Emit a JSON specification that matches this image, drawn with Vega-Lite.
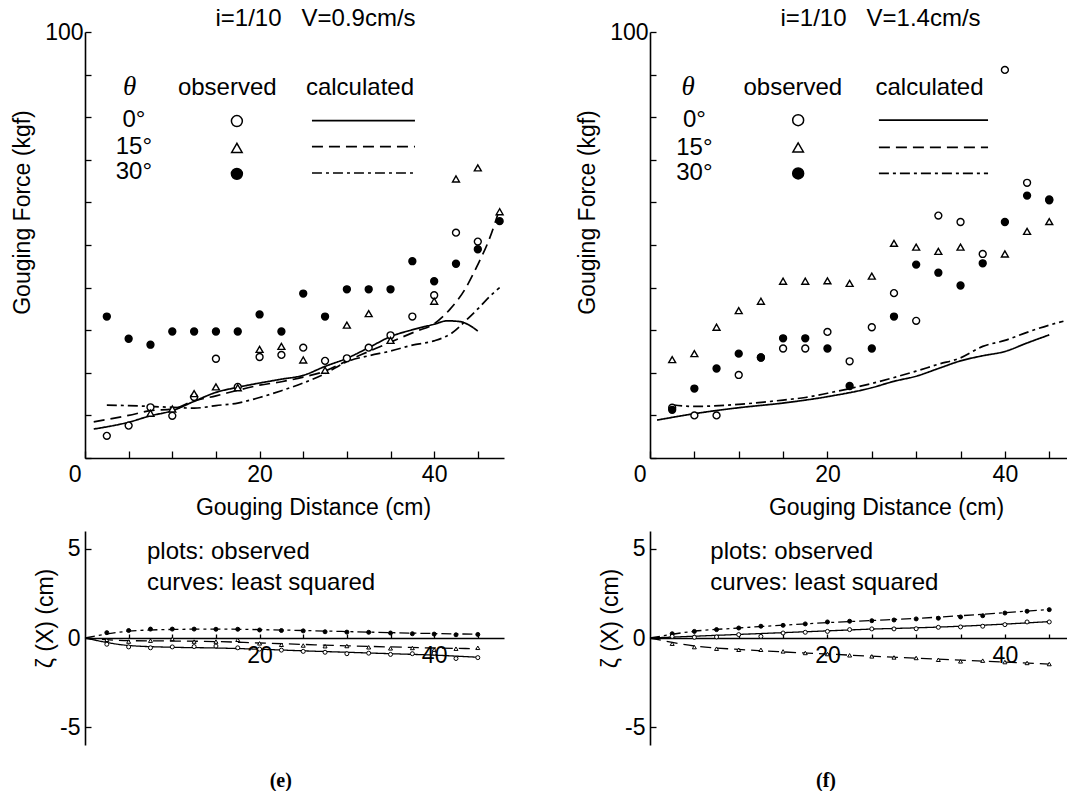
{
"$schema": "https://vega.github.io/schema/vega-lite/v6.json",
"background": "white",
"padding": {"left": 11, "top": 7, "right": 0, "bottom": 0},
"config": {
  "font": "Liberation Sans",
  "locale": {"number": {"decimal": ".", "thousands": ",", "grouping": [3], "currency": ["$", ""], "minus": "-"}},
  "view": {"stroke": null},
  "axis": {"domainColor": "black", "tickColor": "black", "labelColor": "black", "titleColor": "black", "labelFont": "Liberation Sans", "titleFont": "Liberation Sans", "labelFontSize": 23, "titleFontSize": 23, "titleFontWeight": "normal", "grid": false, "domainWidth": 1.6, "tickWidth": 1.3, "labelOverlap": false, "labelFlush": false, "labelBound": false},
  "title": {"font": "Liberation Sans", "fontWeight": "normal", "color": "black"},
  "text": {"font": "Liberation Sans", "fontSize": 23, "color": "black"}
},
"datasets": {
  "obs": [
    {"p":"e","theta":"0°","x":2.5,"y":5.2},{"p":"e","theta":"0°","x":5,"y":7.6},{"p":"e","theta":"0°","x":7.5,"y":11.9},{"p":"e","theta":"0°","x":10,"y":9.9},{"p":"e","theta":"0°","x":12.5,"y":14.3},{"p":"e","theta":"0°","x":15,"y":23.3},{"p":"e","theta":"0°","x":17.5,"y":16.7},{"p":"e","theta":"0°","x":20,"y":23.7},{"p":"e","theta":"0°","x":22.5,"y":24.2},{"p":"e","theta":"0°","x":25,"y":25.9},{"p":"e","theta":"0°","x":27.5,"y":22.8},{"p":"e","theta":"0°","x":30,"y":23.4},{"p":"e","theta":"0°","x":32.5,"y":25.9},{"p":"e","theta":"0°","x":35,"y":28.8},{"p":"e","theta":"0°","x":37.5,"y":33.2},{"p":"e","theta":"0°","x":40,"y":38.2},{"p":"e","theta":"0°","x":42.5,"y":52.9},{"p":"e","theta":"0°","x":45,"y":50.8},
    {"p":"e","theta":"15°","x":7.5,"y":10.5},{"p":"e","theta":"15°","x":10,"y":11.5},{"p":"e","theta":"15°","x":12.5,"y":15.1},{"p":"e","theta":"15°","x":15,"y":16.7},{"p":"e","theta":"15°","x":17.5,"y":16.5},{"p":"e","theta":"15°","x":20,"y":25.5},{"p":"e","theta":"15°","x":22.5,"y":26.2},{"p":"e","theta":"15°","x":25,"y":23.0},{"p":"e","theta":"15°","x":27.5,"y":20.6},{"p":"e","theta":"15°","x":30,"y":31.2},{"p":"e","theta":"15°","x":32.5,"y":33.9},{"p":"e","theta":"15°","x":35,"y":27.6},{"p":"e","theta":"15°","x":40,"y":36.8},{"p":"e","theta":"15°","x":42.5,"y":65.5},{"p":"e","theta":"15°","x":45,"y":68.1},{"p":"e","theta":"15°","x":47.5,"y":57.8},
    {"p":"e","theta":"30°","x":2.5,"y":33.2},{"p":"e","theta":"30°","x":5,"y":28.0},{"p":"e","theta":"30°","x":7.5,"y":26.6},{"p":"e","theta":"30°","x":10,"y":29.7},{"p":"e","theta":"30°","x":12.5,"y":29.7},{"p":"e","theta":"30°","x":15,"y":29.7},{"p":"e","theta":"30°","x":17.5,"y":29.7},{"p":"e","theta":"30°","x":20,"y":33.7},{"p":"e","theta":"30°","x":22.5,"y":29.7},{"p":"e","theta":"30°","x":25,"y":38.6},{"p":"e","theta":"30°","x":27.5,"y":33.2},{"p":"e","theta":"30°","x":30,"y":39.6},{"p":"e","theta":"30°","x":32.5,"y":39.6},{"p":"e","theta":"30°","x":35,"y":39.6},{"p":"e","theta":"30°","x":37.5,"y":46.2},{"p":"e","theta":"30°","x":40,"y":41.5},{"p":"e","theta":"30°","x":42.5,"y":45.6},{"p":"e","theta":"30°","x":45,"y":49.0},{"p":"e","theta":"30°","x":47.5,"y":55.6},
    {"p":"f","theta":"0°","x":2.5,"y":11.8},{"p":"f","theta":"0°","x":5,"y":10.0},{"p":"f","theta":"0°","x":7.5,"y":10.0},{"p":"f","theta":"0°","x":10,"y":19.5},{"p":"f","theta":"0°","x":12.5,"y":23.6},{"p":"f","theta":"0°","x":15,"y":25.7},{"p":"f","theta":"0°","x":17.5,"y":25.7},{"p":"f","theta":"0°","x":20,"y":29.6},{"p":"f","theta":"0°","x":22.5,"y":22.7},{"p":"f","theta":"0°","x":25,"y":30.7},{"p":"f","theta":"0°","x":27.5,"y":38.7},{"p":"f","theta":"0°","x":30,"y":32.2},{"p":"f","theta":"0°","x":32.5,"y":56.9},{"p":"f","theta":"0°","x":35,"y":55.4},{"p":"f","theta":"0°","x":37.5,"y":47.9},{"p":"f","theta":"0°","x":40,"y":91.1},{"p":"f","theta":"0°","x":42.5,"y":64.6},{"p":"f","theta":"0°","x":45,"y":60.7},
    {"p":"f","theta":"15°","x":2.5,"y":23.1},{"p":"f","theta":"15°","x":5,"y":24.5},{"p":"f","theta":"15°","x":7.5,"y":30.7},{"p":"f","theta":"15°","x":10,"y":34.6},{"p":"f","theta":"15°","x":12.5,"y":36.8},{"p":"f","theta":"15°","x":15,"y":41.5},{"p":"f","theta":"15°","x":17.5,"y":41.5},{"p":"f","theta":"15°","x":20,"y":41.6},{"p":"f","theta":"15°","x":22.5,"y":41.0},{"p":"f","theta":"15°","x":25,"y":42.7},{"p":"f","theta":"15°","x":27.5,"y":50.4},{"p":"f","theta":"15°","x":30,"y":49.5},{"p":"f","theta":"15°","x":32.5,"y":48.5},{"p":"f","theta":"15°","x":35,"y":49.5},{"p":"f","theta":"15°","x":40,"y":47.9},{"p":"f","theta":"15°","x":42.5,"y":53.2},{"p":"f","theta":"15°","x":45,"y":55.5},
    {"p":"f","theta":"30°","x":2.5,"y":11.3},{"p":"f","theta":"30°","x":5,"y":16.3},{"p":"f","theta":"30°","x":7.5,"y":21.0},{"p":"f","theta":"30°","x":10,"y":24.5},{"p":"f","theta":"30°","x":12.5,"y":23.6},{"p":"f","theta":"30°","x":15,"y":28.1},{"p":"f","theta":"30°","x":17.5,"y":28.1},{"p":"f","theta":"30°","x":20,"y":25.7},{"p":"f","theta":"30°","x":22.5,"y":16.9},{"p":"f","theta":"30°","x":25,"y":25.7},{"p":"f","theta":"30°","x":27.5,"y":33.2},{"p":"f","theta":"30°","x":30,"y":45.4},{"p":"f","theta":"30°","x":32.5,"y":43.5},{"p":"f","theta":"30°","x":35,"y":40.5},{"p":"f","theta":"30°","x":37.5,"y":45.7},{"p":"f","theta":"30°","x":40,"y":55.4},{"p":"f","theta":"30°","x":42.5,"y":61.6},{"p":"f","theta":"30°","x":45,"y":60.5}
  ],
  "calc": [
    {"p":"e","theta":"0°","x":1,"y":6.8},{"p":"e","theta":"0°","x":5,"y":8.4},{"p":"e","theta":"0°","x":7.5,"y":9.9},{"p":"e","theta":"0°","x":10,"y":11.1},{"p":"e","theta":"0°","x":12.5,"y":13.3},{"p":"e","theta":"0°","x":15,"y":15.4},{"p":"e","theta":"0°","x":17.5,"y":16.6},{"p":"e","theta":"0°","x":20,"y":17.6},{"p":"e","theta":"0°","x":22.5,"y":18.5},{"p":"e","theta":"0°","x":25,"y":19.4},{"p":"e","theta":"0°","x":27.5,"y":21.5},{"p":"e","theta":"0°","x":30,"y":23.4},{"p":"e","theta":"0°","x":32.5,"y":25.9},{"p":"e","theta":"0°","x":35,"y":28.5},{"p":"e","theta":"0°","x":37.5,"y":30.1},{"p":"e","theta":"0°","x":40,"y":31.4},{"p":"e","theta":"0°","x":41.5,"y":32.2},{"p":"e","theta":"0°","x":43,"y":32.0},{"p":"e","theta":"0°","x":44,"y":31.2},{"p":"e","theta":"0°","x":45,"y":29.8},
    {"p":"e","theta":"15°","x":1,"y":8.5},{"p":"e","theta":"15°","x":5,"y":10.0},{"p":"e","theta":"15°","x":7.5,"y":11.1},{"p":"e","theta":"15°","x":10,"y":11.5},{"p":"e","theta":"15°","x":12.5,"y":13.4},{"p":"e","theta":"15°","x":15,"y":14.6},{"p":"e","theta":"15°","x":17.5,"y":15.9},{"p":"e","theta":"15°","x":20,"y":17.1},{"p":"e","theta":"15°","x":22.5,"y":17.9},{"p":"e","theta":"15°","x":25,"y":19.0},{"p":"e","theta":"15°","x":27.5,"y":20.4},{"p":"e","theta":"15°","x":30,"y":22.8},{"p":"e","theta":"15°","x":32.5,"y":25.0},{"p":"e","theta":"15°","x":35,"y":27.2},{"p":"e","theta":"15°","x":38,"y":29.8},{"p":"e","theta":"15°","x":40,"y":31.5},{"p":"e","theta":"15°","x":41.8,"y":34.9},{"p":"e","theta":"15°","x":43.5,"y":39.5},{"p":"e","theta":"15°","x":44.9,"y":45.0},{"p":"e","theta":"15°","x":46.3,"y":51.3},{"p":"e","theta":"15°","x":47.5,"y":58.5},
    {"p":"e","theta":"30°","x":2.5,"y":12.4},{"p":"e","theta":"30°","x":5,"y":12.3},{"p":"e","theta":"30°","x":7.5,"y":12.1},{"p":"e","theta":"30°","x":10,"y":11.9},{"p":"e","theta":"30°","x":12.5,"y":11.7},{"p":"e","theta":"30°","x":15,"y":12.3},{"p":"e","theta":"30°","x":17.5,"y":12.9},{"p":"e","theta":"30°","x":20,"y":14.2},{"p":"e","theta":"30°","x":22.5,"y":15.8},{"p":"e","theta":"30°","x":25,"y":17.6},{"p":"e","theta":"30°","x":27.5,"y":19.8},{"p":"e","theta":"30°","x":30,"y":22.6},{"p":"e","theta":"30°","x":32.5,"y":24.0},{"p":"e","theta":"30°","x":35,"y":25.1},{"p":"e","theta":"30°","x":37.5,"y":26.5},{"p":"e","theta":"30°","x":40,"y":27.5},{"p":"e","theta":"30°","x":42,"y":29.3},{"p":"e","theta":"30°","x":43.8,"y":32.6},{"p":"e","theta":"30°","x":45,"y":35.0},{"p":"e","theta":"30°","x":46.4,"y":38.0},{"p":"e","theta":"30°","x":47.5,"y":40.0},
    {"p":"f","theta":"0°","x":0.8,"y":8.9},{"p":"f","theta":"0°","x":5,"y":10.4},{"p":"f","theta":"0°","x":10,"y":11.8},{"p":"f","theta":"0°","x":15,"y":12.9},{"p":"f","theta":"0°","x":20,"y":14.4},{"p":"f","theta":"0°","x":25,"y":16.5},{"p":"f","theta":"0°","x":27.5,"y":18.0},{"p":"f","theta":"0°","x":30,"y":19.2},{"p":"f","theta":"0°","x":32.5,"y":21.0},{"p":"f","theta":"0°","x":35,"y":22.8},{"p":"f","theta":"0°","x":37.5,"y":24.0},{"p":"f","theta":"0°","x":40,"y":25.0},{"p":"f","theta":"0°","x":42.5,"y":27.0},{"p":"f","theta":"0°","x":45,"y":28.9},
    {"p":"f","theta":"30°","x":2.5,"y":12.5},{"p":"f","theta":"30°","x":5,"y":12.1},{"p":"f","theta":"30°","x":10,"y":12.6},{"p":"f","theta":"30°","x":15,"y":13.6},{"p":"f","theta":"30°","x":17.5,"y":14.2},{"p":"f","theta":"30°","x":20,"y":15.2},{"p":"f","theta":"30°","x":25,"y":17.5},{"p":"f","theta":"30°","x":30,"y":20.4},{"p":"f","theta":"30°","x":32.5,"y":22.0},{"p":"f","theta":"30°","x":35,"y":23.5},{"p":"f","theta":"30°","x":37.5,"y":26.2},{"p":"f","theta":"30°","x":40,"y":27.6},{"p":"f","theta":"30°","x":42.5,"y":29.5},{"p":"f","theta":"30°","x":45,"y":31.2},{"p":"f","theta":"30°","x":46.6,"y":32.1}
  ],
  "bobs": [
    {"p":"e","theta":"30°","x":2.5,"y":0.3},{"p":"e","theta":"30°","x":5,"y":0.42},{"p":"e","theta":"30°","x":7.5,"y":0.5},{"p":"e","theta":"30°","x":10,"y":0.5},{"p":"e","theta":"30°","x":12.5,"y":0.5},{"p":"e","theta":"30°","x":15,"y":0.49},{"p":"e","theta":"30°","x":17.5,"y":0.49},{"p":"e","theta":"30°","x":20,"y":0.45},{"p":"e","theta":"30°","x":22.5,"y":0.42},{"p":"e","theta":"30°","x":25,"y":0.4},{"p":"e","theta":"30°","x":27.5,"y":0.35},{"p":"e","theta":"30°","x":30,"y":0.33},{"p":"e","theta":"30°","x":32.5,"y":0.32},{"p":"e","theta":"30°","x":35,"y":0.28},{"p":"e","theta":"30°","x":37.5,"y":0.24},{"p":"e","theta":"30°","x":40,"y":0.22},{"p":"e","theta":"30°","x":42.5,"y":0.18},{"p":"e","theta":"30°","x":45,"y":0.2},
    {"p":"e","theta":"0°","x":2.5,"y":-0.35},{"p":"e","theta":"0°","x":5,"y":-0.5},{"p":"e","theta":"0°","x":7.5,"y":-0.55},{"p":"e","theta":"0°","x":10,"y":-0.5},{"p":"e","theta":"0°","x":12.5,"y":-0.48},{"p":"e","theta":"0°","x":15,"y":-0.45},{"p":"e","theta":"0°","x":17.5,"y":-0.55},{"p":"e","theta":"0°","x":20,"y":-0.62},{"p":"e","theta":"0°","x":22.5,"y":-0.68},{"p":"e","theta":"0°","x":25,"y":-0.75},{"p":"e","theta":"0°","x":27.5,"y":-0.8},{"p":"e","theta":"0°","x":30,"y":-0.88},{"p":"e","theta":"0°","x":32.5,"y":-0.85},{"p":"e","theta":"0°","x":35,"y":-0.92},{"p":"e","theta":"0°","x":37.5,"y":-0.88},{"p":"e","theta":"0°","x":40,"y":-0.85},{"p":"e","theta":"0°","x":42.5,"y":-1.15},{"p":"e","theta":"0°","x":45,"y":-1.1},
    {"p":"e","theta":"15°","x":2.5,"y":-0.1},{"p":"e","theta":"15°","x":5,"y":-0.2},{"p":"e","theta":"15°","x":7.5,"y":-0.15},{"p":"e","theta":"15°","x":10,"y":-0.05},{"p":"e","theta":"15°","x":12.5,"y":-0.2},{"p":"e","theta":"15°","x":15,"y":-0.2},{"p":"e","theta":"15°","x":17.5,"y":-0.1},{"p":"e","theta":"15°","x":20,"y":-0.3},{"p":"e","theta":"15°","x":22.5,"y":-0.38},{"p":"e","theta":"15°","x":25,"y":-0.42},{"p":"e","theta":"15°","x":27.5,"y":-0.46},{"p":"e","theta":"15°","x":30,"y":-0.45},{"p":"e","theta":"15°","x":32.5,"y":-0.52},{"p":"e","theta":"15°","x":35,"y":-0.58},{"p":"e","theta":"15°","x":37.5,"y":-0.56},{"p":"e","theta":"15°","x":40,"y":-0.65},{"p":"e","theta":"15°","x":42.5,"y":-0.6},{"p":"e","theta":"15°","x":45,"y":-0.55},
    {"p":"f","theta":"30°","x":2.5,"y":0.24},{"p":"f","theta":"30°","x":5,"y":0.37},{"p":"f","theta":"30°","x":7.5,"y":0.47},{"p":"f","theta":"30°","x":10,"y":0.56},{"p":"f","theta":"30°","x":12.5,"y":0.66},{"p":"f","theta":"30°","x":15,"y":0.71},{"p":"f","theta":"30°","x":17.5,"y":0.79},{"p":"f","theta":"30°","x":20,"y":0.9},{"p":"f","theta":"30°","x":22.5,"y":0.94},{"p":"f","theta":"30°","x":25,"y":0.97},{"p":"f","theta":"30°","x":27.5,"y":1.01},{"p":"f","theta":"30°","x":30,"y":1.07},{"p":"f","theta":"30°","x":32.5,"y":1.11},{"p":"f","theta":"30°","x":35,"y":1.18},{"p":"f","theta":"30°","x":37.5,"y":1.25},{"p":"f","theta":"30°","x":40,"y":1.4},{"p":"f","theta":"30°","x":42.5,"y":1.5},{"p":"f","theta":"30°","x":45,"y":1.59},{"p":"f","theta":"30°","x":47.5,"y":1.69},
    {"p":"f","theta":"0°","x":2.5,"y":0.09},{"p":"f","theta":"0°","x":5,"y":0.04},{"p":"f","theta":"0°","x":7.5,"y":0.06},{"p":"f","theta":"0°","x":10,"y":0.19},{"p":"f","theta":"0°","x":12.5,"y":0.09},{"p":"f","theta":"0°","x":15,"y":0.28},{"p":"f","theta":"0°","x":17.5,"y":0.32},{"p":"f","theta":"0°","x":20,"y":0.37},{"p":"f","theta":"0°","x":22.5,"y":0.47},{"p":"f","theta":"0°","x":25,"y":0.51},{"p":"f","theta":"0°","x":27.5,"y":0.51},{"p":"f","theta":"0°","x":30,"y":0.52},{"p":"f","theta":"0°","x":32.5,"y":0.6},{"p":"f","theta":"0°","x":35,"y":0.62},{"p":"f","theta":"0°","x":37.5,"y":0.66},{"p":"f","theta":"0°","x":40,"y":0.75},{"p":"f","theta":"0°","x":42.5,"y":0.9},{"p":"f","theta":"0°","x":45,"y":0.9},
    {"p":"f","theta":"15°","x":2.5,"y":-0.32},{"p":"f","theta":"15°","x":5,"y":-0.51},{"p":"f","theta":"15°","x":7.5,"y":-0.6},{"p":"f","theta":"15°","x":10,"y":-0.66},{"p":"f","theta":"15°","x":12.5,"y":-0.66},{"p":"f","theta":"15°","x":15,"y":-0.75},{"p":"f","theta":"15°","x":17.5,"y":-0.84},{"p":"f","theta":"15°","x":20,"y":-0.9},{"p":"f","theta":"15°","x":22.5,"y":-0.97},{"p":"f","theta":"15°","x":25,"y":-1.03},{"p":"f","theta":"15°","x":27.5,"y":-1.09},{"p":"f","theta":"15°","x":30,"y":-1.12},{"p":"f","theta":"15°","x":32.5,"y":-1.22},{"p":"f","theta":"15°","x":35,"y":-1.31},{"p":"f","theta":"15°","x":37.5,"y":-1.27},{"p":"f","theta":"15°","x":40,"y":-1.35},{"p":"f","theta":"15°","x":42.5,"y":-1.4},{"p":"f","theta":"15°","x":45,"y":-1.46}
  ],
  "bcalc": [
    {"p":"e","theta":"30°","x":0,"y":0},{"p":"e","theta":"30°","x":5,"y":0.38},{"p":"e","theta":"30°","x":10,"y":0.48},{"p":"e","theta":"30°","x":15,"y":0.5},{"p":"e","theta":"30°","x":20,"y":0.47},{"p":"e","theta":"30°","x":25,"y":0.42},{"p":"e","theta":"30°","x":30,"y":0.36},{"p":"e","theta":"30°","x":35,"y":0.3},{"p":"e","theta":"30°","x":40,"y":0.25},{"p":"e","theta":"30°","x":45,"y":0.21},
    {"p":"e","theta":"0°","x":0,"y":0},{"p":"e","theta":"0°","x":5,"y":-0.42},{"p":"e","theta":"0°","x":10,"y":-0.52},{"p":"e","theta":"0°","x":15,"y":-0.56},{"p":"e","theta":"0°","x":20,"y":-0.63},{"p":"e","theta":"0°","x":25,"y":-0.72},{"p":"e","theta":"0°","x":30,"y":-0.8},{"p":"e","theta":"0°","x":35,"y":-0.88},{"p":"e","theta":"0°","x":40,"y":-0.96},{"p":"e","theta":"0°","x":45,"y":-1.08},
    {"p":"e","theta":"15°","x":0,"y":0},{"p":"e","theta":"15°","x":5,"y":-0.15},{"p":"e","theta":"15°","x":10,"y":-0.17},{"p":"e","theta":"15°","x":15,"y":-0.2},{"p":"e","theta":"15°","x":20,"y":-0.28},{"p":"e","theta":"15°","x":25,"y":-0.36},{"p":"e","theta":"15°","x":30,"y":-0.44},{"p":"e","theta":"15°","x":35,"y":-0.5},{"p":"e","theta":"15°","x":40,"y":-0.56},{"p":"e","theta":"15°","x":45,"y":-0.6},
    {"p":"f","theta":"30°","x":0,"y":0},{"p":"f","theta":"30°","x":5,"y":0.38},{"p":"f","theta":"30°","x":10,"y":0.56},{"p":"f","theta":"30°","x":15,"y":0.72},{"p":"f","theta":"30°","x":20,"y":0.86},{"p":"f","theta":"30°","x":25,"y":0.98},{"p":"f","theta":"30°","x":30,"y":1.1},{"p":"f","theta":"30°","x":35,"y":1.25},{"p":"f","theta":"30°","x":40,"y":1.42},{"p":"f","theta":"30°","x":45,"y":1.6},
    {"p":"f","theta":"0°","x":0,"y":0},{"p":"f","theta":"0°","x":5,"y":0.1},{"p":"f","theta":"0°","x":10,"y":0.2},{"p":"f","theta":"0°","x":15,"y":0.3},{"p":"f","theta":"0°","x":20,"y":0.4},{"p":"f","theta":"0°","x":25,"y":0.5},{"p":"f","theta":"0°","x":30,"y":0.57},{"p":"f","theta":"0°","x":35,"y":0.66},{"p":"f","theta":"0°","x":40,"y":0.78},{"p":"f","theta":"0°","x":45,"y":0.92},
    {"p":"f","theta":"15°","x":0,"y":0},{"p":"f","theta":"15°","x":5,"y":-0.45},{"p":"f","theta":"15°","x":10,"y":-0.64},{"p":"f","theta":"15°","x":15,"y":-0.78},{"p":"f","theta":"15°","x":20,"y":-0.9},{"p":"f","theta":"15°","x":25,"y":-1.02},{"p":"f","theta":"15°","x":30,"y":-1.13},{"p":"f","theta":"15°","x":35,"y":-1.24},{"p":"f","theta":"15°","x":40,"y":-1.35},{"p":"f","theta":"15°","x":45,"y":-1.46}
  ]
},
"hconcat": [
  {
    "vconcat": [
      {
        "width": 419, "height": 426,
        "title": {"text": "i=1/10\u00a0\u00a0\u00a0V=0.9cm/s", "fontSize": 24, "anchor": "middle", "frame": "group", "dx": 21, "offset": 0, "dy": 10},
        "layer": [
          {"data": {"name": "calc"}, "transform": [{"filter": "datum.p=='e'"}],
           "mark": {"type": "line", "interpolate": "monotone", "strokeWidth": 1.7, "color": "black"},
           "encoding": {
             "x": {"field": "x", "type": "quantitative", "scale": {"domain": [0, 48], "nice": false, "zero": false},
                   "axis": {"values": [0,5,10,15,20,25,30,35,40,45], "labelExpr": "datum.value==0||datum.value==20||datum.value==40 ? datum.label : ''", "labelAlign": {"condition": {"test": "datum.value==0", "value": "right"}, "value": "center"}, "labelOffset": {"condition": {"test": "datum.value==0", "value": -4}, "value": 0}, "tickSize": -7, "labelPadding": 12, "title": "Gouging Distance (cm)", "titlePadding": 10, "titleX": 228}},
             "y": {"field": "y", "type": "quantitative", "scale": {"domain": [0, 100], "nice": false},
                   "axis": {"values": [0,10,20,30,40,50,60,70,80,90,100], "labelExpr": "datum.value==100 ? '100' : ''", "tickSize": -6, "labelPadding": 8, "title": "Gouging Force (kgf)", "titlePadding": 10, "titleY": 180}},
             "strokeDash": {"field": "theta", "type": "nominal", "scale": {"domain": ["0°","15°","30°"], "range": [[1,0],[11,6],[10,4,3,4]]}, "legend": null},
             "detail": {"field": "theta"}
           }},
          {"data": {"name": "obs"}, "transform": [{"filter": "datum.p=='e'"}],
           "mark": {"type": "point", "filled": true, "stroke": "black", "strokeWidth": 1.4, "size": 48, "opacity": 1},
           "encoding": {
             "x": {"field": "x", "type": "quantitative"},
             "y": {"field": "y", "type": "quantitative"},
             "shape": {"field": "theta", "type": "nominal", "scale": {"domain": ["0°","15°","30°"], "range": ["circle","triangle-up","circle"]}, "legend": null},
             "fill": {"field": "theta", "type": "nominal", "scale": {"domain": ["0°","15°","30°"], "range": ["white","white","black"]}, "legend": null}
           }},
          {"data": {"values": [{}]}, "mark": {"type": "text", "font": "Liberation Serif", "fontStyle": "italic", "fontSize": 27, "align": "center", "baseline": "middle"}, "encoding": {"x": {"datum": 5.1}, "y": {"datum": 87.1}, "text": {"value": "θ"}}},
          {"data": {"values": [{}]}, "mark": {"type": "text", "fontSize": 24, "align": "center", "baseline": "middle"}, "encoding": {"x": {"datum": 16.3}, "y": {"datum": 86.8}, "text": {"value": "observed"}}},
          {"data": {"values": [{}]}, "mark": {"type": "text", "fontSize": 24, "align": "center", "baseline": "middle"}, "encoding": {"x": {"datum": 31.5}, "y": {"datum": 86.8}, "text": {"value": "calculated"}}},
          {"data": {"values": [{}]}, "mark": {"type": "text", "fontSize": 24, "align": "center", "baseline": "middle"}, "encoding": {"x": {"datum": 5.6}, "y": {"datum": 79.4}, "text": {"value": "0°"}}},
          {"data": {"values": [{}]}, "mark": {"type": "text", "fontSize": 24, "align": "center", "baseline": "middle"}, "encoding": {"x": {"datum": 5.6}, "y": {"datum": 73.1}, "text": {"value": "15°"}}},
          {"data": {"values": [{}]}, "mark": {"type": "text", "fontSize": 24, "align": "center", "baseline": "middle"}, "encoding": {"x": {"datum": 5.6}, "y": {"datum": 67.2}, "text": {"value": "30°"}}},
          {"data": {"values": [{}]}, "mark": {"type": "point", "shape": "circle", "filled": true, "fill": "white", "stroke": "black", "strokeWidth": 1.5, "size": 120, "opacity": 1}, "encoding": {"x": {"datum": 17.4}, "y": {"datum": 79.1}}},
          {"data": {"values": [{}]}, "mark": {"type": "point", "shape": "triangle-up", "filled": true, "fill": "white", "stroke": "black", "strokeWidth": 1.5, "size": 110, "opacity": 1}, "encoding": {"x": {"datum": 17.4}, "y": {"datum": 72.8}}},
          {"data": {"values": [{}]}, "mark": {"type": "point", "shape": "circle", "filled": true, "fill": "black", "stroke": "black", "strokeWidth": 1.5, "size": 120, "opacity": 1}, "encoding": {"x": {"datum": 17.4}, "y": {"datum": 66.7}}},
          {"data": {"values": [{}]}, "mark": {"type": "rule", "color": "black", "strokeWidth": 1.7}, "encoding": {"x": {"datum": 26}, "x2": {"datum": 37.8}, "y": {"datum": 79.2}}},
          {"data": {"values": [{}]}, "mark": {"type": "rule", "color": "black", "strokeWidth": 1.7, "strokeDash": [11,6]}, "encoding": {"x": {"datum": 26}, "x2": {"datum": 37.8}, "y": {"datum": 73.1}}},
          {"data": {"values": [{}]}, "mark": {"type": "rule", "color": "black", "strokeWidth": 1.7, "strokeDash": [10,4,3,4]}, "encoding": {"x": {"datum": 26}, "x2": {"datum": 37.8}, "y": {"datum": 66.9}}}
        ]
      },
      {
        "width": 419, "height": 214,
        "layer": [
          {"data": {"name": "bcalc"}, "transform": [{"filter": "datum.p=='e'"}],
           "mark": {"type": "line", "interpolate": "monotone", "strokeWidth": 1.3, "color": "black"},
           "encoding": {
             "x": {"field": "x", "type": "quantitative", "scale": {"domain": [0, 48], "nice": false, "zero": false},
                   "axis": {"offset": -107, "values": [5,10,15,20,25,30,35,40,45], "labelExpr": "datum.value==20||datum.value==40 ? datum.label : ''", "tickSize": -4, "labelPadding": 10, "title": null}},
             "y": {"field": "y", "type": "quantitative", "scale": {"domain": [-6, 6], "nice": false},
                   "axis": {"values": [-5, 0, 5], "tickSize": -6, "labelPadding": 11, "title": "ζ (X) (cm)", "titlePadding": 2, "titleY": 87}},
             "strokeDash": {"field": "theta", "type": "nominal", "scale": {"domain": ["0°","15°","30°"], "range": [[1,0],[6,3],[6,3,2,3]]}, "legend": null},
             "detail": {"field": "theta"}
           }},
          {"data": {"name": "bobs"}, "transform": [{"filter": "datum.p=='e'"}],
           "mark": {"type": "point", "filled": true, "stroke": "black", "strokeWidth": 1, "size": 16, "opacity": 1},
           "encoding": {
             "x": {"field": "x", "type": "quantitative"},
             "y": {"field": "y", "type": "quantitative"},
             "shape": {"field": "theta", "type": "nominal", "scale": {"domain": ["0°","15°","30°"], "range": ["circle","triangle-up","circle"]}, "legend": null},
             "fill": {"field": "theta", "type": "nominal", "scale": {"domain": ["0°","15°","30°"], "range": ["white","white","black"]}, "legend": null}
           }},
          {"data": {"values": [{}]}, "mark": {"type": "text", "fontSize": 24, "align": "left", "baseline": "middle"}, "encoding": {"x": {"datum": 7.1}, "y": {"datum": 4.8}, "text": {"value": "plots: observed"}}},
          {"data": {"values": [{}]}, "mark": {"type": "text", "fontSize": 24, "align": "left", "baseline": "middle"}, "encoding": {"x": {"datum": 7.1}, "y": {"datum": 3.1}, "text": {"value": "curves: least squared"}}}
        ]
      }
    ],
    "spacing": 73,
    "bounds": "flush",
    "resolve": {"scale": {"x": "independent", "y": "independent"}},
    "title": {"text": "(e)", "orient": "bottom", "anchor": "middle", "frame": "bounds", "dx": 22, "font": "Liberation Serif", "fontWeight": "bold", "fontSize": 20, "offset": 26}
  },
  {
    "vconcat": [
      {
        "width": 417, "height": 426,
        "title": {"text": "i=1/10\u00a0\u00a0\u00a0V=1.4cm/s", "fontSize": 24, "anchor": "middle", "frame": "group", "dx": 22, "offset": 0, "dy": 10},
        "layer": [
          {"data": {"name": "calc"}, "transform": [{"filter": "datum.p=='f'"}],
           "mark": {"type": "line", "interpolate": "monotone", "strokeWidth": 1.7, "color": "black"},
           "encoding": {
             "x": {"field": "x", "type": "quantitative", "scale": {"domain": [0, 47], "nice": false, "zero": false},
                   "axis": {"values": [0,5,10,15,20,25,30,35,40,45], "labelExpr": "datum.value==0||datum.value==20||datum.value==40 ? datum.label : ''", "labelAlign": {"condition": {"test": "datum.value==0", "value": "right"}, "value": "center"}, "labelOffset": {"condition": {"test": "datum.value==0", "value": -4}, "value": 0}, "tickSize": -7, "labelPadding": 12, "title": "Gouging Distance (cm)", "titlePadding": 10, "titleX": 236}},
             "y": {"field": "y", "type": "quantitative", "scale": {"domain": [0, 100], "nice": false},
                   "axis": {"values": [0,10,20,30,40,50,60,70,80,90,100], "labelExpr": "datum.value==100 ? '100' : ''", "tickSize": -6, "labelPadding": 8, "title": "Gouging Force (kgf)", "titlePadding": 10, "titleY": 180}},
             "strokeDash": {"field": "theta", "type": "nominal", "scale": {"domain": ["0°","15°","30°"], "range": [[1,0],[11,6],[10,4,3,4]]}, "legend": null},
             "detail": {"field": "theta"}
           }},
          {"data": {"name": "obs"}, "transform": [{"filter": "datum.p=='f'"}],
           "mark": {"type": "point", "filled": true, "stroke": "black", "strokeWidth": 1.4, "size": 48, "opacity": 1},
           "encoding": {
             "x": {"field": "x", "type": "quantitative"},
             "y": {"field": "y", "type": "quantitative"},
             "shape": {"field": "theta", "type": "nominal", "scale": {"domain": ["0°","15°","30°"], "range": ["circle","triangle-up","circle"]}, "legend": null},
             "fill": {"field": "theta", "type": "nominal", "scale": {"domain": ["0°","15°","30°"], "range": ["white","white","black"]}, "legend": null}
           }},
          {"data": {"values": [{}]}, "mark": {"type": "text", "font": "Liberation Serif", "fontStyle": "italic", "fontSize": 27, "align": "center", "baseline": "middle"}, "encoding": {"x": {"datum": 4.3}, "y": {"datum": 87.1}, "text": {"value": "θ"}}},
          {"data": {"values": [{}]}, "mark": {"type": "text", "fontSize": 24, "align": "center", "baseline": "middle"}, "encoding": {"x": {"datum": 16.1}, "y": {"datum": 86.8}, "text": {"value": "observed"}}},
          {"data": {"values": [{}]}, "mark": {"type": "text", "fontSize": 24, "align": "center", "baseline": "middle"}, "encoding": {"x": {"datum": 31.5}, "y": {"datum": 86.8}, "text": {"value": "calculated"}}},
          {"data": {"values": [{}]}, "mark": {"type": "text", "fontSize": 24, "align": "center", "baseline": "middle"}, "encoding": {"x": {"datum": 5.0}, "y": {"datum": 79.3}, "text": {"value": "0°"}}},
          {"data": {"values": [{}]}, "mark": {"type": "text", "fontSize": 24, "align": "center", "baseline": "middle"}, "encoding": {"x": {"datum": 5.0}, "y": {"datum": 72.8}, "text": {"value": "15°"}}},
          {"data": {"values": [{}]}, "mark": {"type": "text", "fontSize": 24, "align": "center", "baseline": "middle"}, "encoding": {"x": {"datum": 5.0}, "y": {"datum": 66.8}, "text": {"value": "30°"}}},
          {"data": {"values": [{}]}, "mark": {"type": "point", "shape": "circle", "filled": true, "fill": "white", "stroke": "black", "strokeWidth": 1.5, "size": 120, "opacity": 1}, "encoding": {"x": {"datum": 16.7}, "y": {"datum": 79.3}}},
          {"data": {"values": [{}]}, "mark": {"type": "point", "shape": "triangle-up", "filled": true, "fill": "white", "stroke": "black", "strokeWidth": 1.5, "size": 110, "opacity": 1}, "encoding": {"x": {"datum": 16.7}, "y": {"datum": 72.9}}},
          {"data": {"values": [{}]}, "mark": {"type": "point", "shape": "circle", "filled": true, "fill": "black", "stroke": "black", "strokeWidth": 1.5, "size": 120, "opacity": 1}, "encoding": {"x": {"datum": 16.7}, "y": {"datum": 66.8}}},
          {"data": {"values": [{}]}, "mark": {"type": "rule", "color": "black", "strokeWidth": 1.7}, "encoding": {"x": {"datum": 25.8}, "x2": {"datum": 38.1}, "y": {"datum": 79.3}}},
          {"data": {"values": [{}]}, "mark": {"type": "rule", "color": "black", "strokeWidth": 1.7, "strokeDash": [11,6]}, "encoding": {"x": {"datum": 25.8}, "x2": {"datum": 38.1}, "y": {"datum": 72.9}}},
          {"data": {"values": [{}]}, "mark": {"type": "rule", "color": "black", "strokeWidth": 1.7, "strokeDash": [10,4,3,4]}, "encoding": {"x": {"datum": 25.8}, "x2": {"datum": 38.1}, "y": {"datum": 66.8}}}
        ]
      },
      {
        "width": 417, "height": 214,
        "layer": [
          {"data": {"name": "bcalc"}, "transform": [{"filter": "datum.p=='f'"}],
           "mark": {"type": "line", "interpolate": "monotone", "strokeWidth": 1.3, "color": "black"},
           "encoding": {
             "x": {"field": "x", "type": "quantitative", "scale": {"domain": [0, 47], "nice": false, "zero": false},
                   "axis": {"offset": -107, "values": [5,10,15,20,25,30,35,40,45], "labelExpr": "datum.value==20||datum.value==40 ? datum.label : ''", "tickSize": -4, "labelPadding": 10, "title": null}},
             "y": {"field": "y", "type": "quantitative", "scale": {"domain": [-6, 6], "nice": false},
                   "axis": {"values": [-5, 0, 5], "tickSize": -6, "labelPadding": 11, "title": "ζ (X) (cm)", "titlePadding": 2, "titleY": 87}},
             "strokeDash": {"field": "theta", "type": "nominal", "scale": {"domain": ["0°","15°","30°"], "range": [[1,0],[6,3],[6,3,2,3]]}, "legend": null},
             "detail": {"field": "theta"}
           }},
          {"data": {"name": "bobs"}, "transform": [{"filter": "datum.p=='f'"}],
           "mark": {"type": "point", "filled": true, "stroke": "black", "strokeWidth": 1, "size": 16, "opacity": 1},
           "encoding": {
             "x": {"field": "x", "type": "quantitative"},
             "y": {"field": "y", "type": "quantitative"},
             "shape": {"field": "theta", "type": "nominal", "scale": {"domain": ["0°","15°","30°"], "range": ["circle","triangle-up","circle"]}, "legend": null},
             "fill": {"field": "theta", "type": "nominal", "scale": {"domain": ["0°","15°","30°"], "range": ["white","white","black"]}, "legend": null}
           }},
          {"data": {"values": [{}]}, "mark": {"type": "text", "fontSize": 24, "align": "left", "baseline": "middle"}, "encoding": {"x": {"datum": 6.8}, "y": {"datum": 4.8}, "text": {"value": "plots: observed"}}},
          {"data": {"values": [{}]}, "mark": {"type": "text", "fontSize": 24, "align": "left", "baseline": "middle"}, "encoding": {"x": {"datum": 6.8}, "y": {"datum": 3.1}, "text": {"value": "curves: least squared"}}}
        ]
      }
    ],
    "spacing": 73,
    "bounds": "flush",
    "resolve": {"scale": {"x": "independent", "y": "independent"}},
    "title": {"text": "(f)", "orient": "bottom", "anchor": "middle", "frame": "bounds", "font": "Liberation Serif", "fontWeight": "bold", "fontSize": 20, "offset": 26}
  }
],
"spacing": 70,
"resolve": {"scale": {"x": "independent", "y": "independent"}}
}
